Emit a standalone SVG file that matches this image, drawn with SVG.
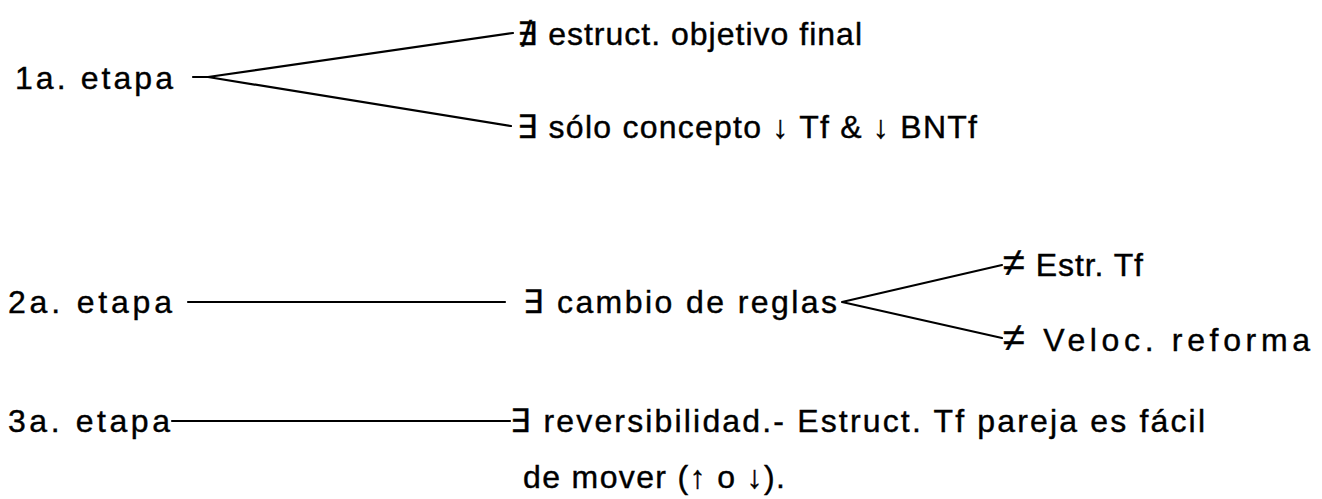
<svg xmlns="http://www.w3.org/2000/svg" width="1322" height="499" viewBox="0 0 1322 499">
<style>
text{font-family:"Liberation Sans","DejaVu Sans",sans-serif;font-size:32px;fill:#000;stroke:#000;stroke-width:0.4}
.ne{font-size:40px}
.c{fill:none;stroke:#000;stroke-width:2.2;stroke-linecap:round;stroke-linejoin:round}
</style>
<rect width="1322" height="499" fill="#fff"/>
<g id="connectors">
<polyline class="c" points="193,77 208,77 513,33"/>
<polyline class="c" points="208,77 511,126"/>
<line class="c" x1="188" y1="302" x2="505" y2="302"/>
<polyline class="c" points="1002,265 842,302 1002,338"/>
<line class="c" x1="172" y1="421" x2="510" y2="421"/>
</g>
<g id="n1"><text x="15" y="89" textLength="158" lengthAdjust="spacing">1a. etapa</text></g>
<g id="n1a"><text x="517" y="45" textLength="345" lengthAdjust="spacing">∄ estruct. objetivo final</text></g>
<g id="n1b"><text x="517" y="138" textLength="460" lengthAdjust="spacing">∃ sólo concepto ↓ Tf &amp; ↓ BNTf</text></g>
<g id="n2"><text x="8" y="313" textLength="164" lengthAdjust="spacing">2a. etapa</text></g>
<g id="n2a"><text x="523" y="313" textLength="314" lengthAdjust="spacing">∃ cambio de reglas</text></g>
<g id="n2b"><text x="1003" y="276" textLength="140" lengthAdjust="spacing"><tspan class="ne">≠</tspan> Estr. Tf</text></g>
<g id="n2c"><text x="1003" y="351" textLength="307" lengthAdjust="spacing"><tspan class="ne">≠</tspan> Veloc. reforma</text></g>
<g id="n3"><text x="8" y="432" textLength="162" lengthAdjust="spacing">3a. etapa</text></g>
<g id="n3a"><text x="510" y="432" textLength="695" lengthAdjust="spacing">∃ reversibilidad.- Estruct. Tf pareja es fácil</text><text x="523" y="488" textLength="262" lengthAdjust="spacing">de mover (↑ o ↓).</text></g>
</svg>
